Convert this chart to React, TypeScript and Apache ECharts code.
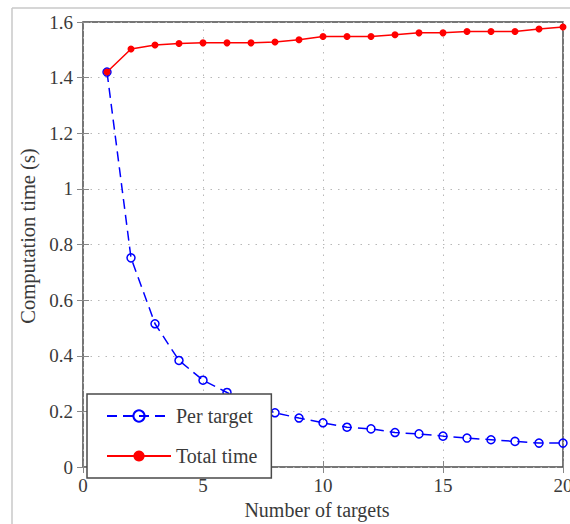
import React, { useEffect, useRef } from "react";
import * as echarts from "echarts";

const targets = [1, 2, 3, 4, 5, 6, 7, 8, 9, 10, 11, 12, 13, 14, 15, 16, 17, 18, 19, 20];
const perTarget = [1.42, 0.752, 0.515, 0.383, 0.312, 0.268, 0.225, 0.195, 0.176, 0.159, 0.143, 0.137, 0.124, 0.119, 0.111, 0.104, 0.098, 0.092, 0.086, 0.086];
const totalTime = [1.42, 1.503, 1.517, 1.523, 1.525, 1.525, 1.525, 1.528, 1.536, 1.548, 1.548, 1.548, 1.554, 1.561, 1.561, 1.566, 1.566, 1.566, 1.575, 1.582];
const seriesNames = ["Per target", "Total time"];
const xTitle = "Number of targets";
const yTitle = "Computation time (s)";

const FONT = "Liberation Serif";
const TXT = "#3a3a3a";

export default function App() {
  const ref = useRef<HTMLDivElement>(null);
  useEffect(() => {
    if (!ref.current) return;
    const chart = echarts.init(ref.current, undefined, { renderer: "svg" });
    const perData = targets.map((t, i) => [t, perTarget[i]]);
    const totData = targets.map((t, i) => [t, totalTime[i]]);
    const tickStyle = { show: true, inside: true, length: 6, lineStyle: { color: "#888", width: 1 } };
    const split = { show: true, lineStyle: { color: "#b8b8b8", width: 1, type: [1.5, 6] as any } };
    const lbl = { fontFamily: FONT, fontSize: 19, color: TXT };
    chart.setOption({
      animation: false,
      backgroundColor: "#ffffff",
      textStyle: { fontFamily: FONT },
      grid: {
        left: 83, top: 22, right: 7, bottom: 57,
        outerBoundsMode: "none", containLabel: false,
        show: true, borderColor: "#4a4a4a", borderWidth: 1.5, backgroundColor: "transparent",
      },
      xAxis: [
        {
          type: "value", min: 0, max: 20, interval: 5,
          axisLine: { show: false },
          axisTick: tickStyle,
          splitLine: split,
          axisLabel: { ...lbl, margin: 9 },
        },
        {
          type: "value", position: "top", min: 0, max: 20, interval: 5,
          axisLine: { show: false }, axisTick: tickStyle, splitLine: { show: false }, axisLabel: { show: false },
        },
      ],
      yAxis: [
        {
          type: "value", min: 0, max: 1.6, interval: 0.2,
          axisLine: { show: false },
          axisTick: tickStyle,
          splitLine: split,
          axisLabel: { ...lbl, margin: 10 },
        },
        {
          type: "value", position: "right", min: 0, max: 1.6, interval: 0.2,
          axisLine: { show: false }, axisTick: tickStyle, splitLine: { show: false }, axisLabel: { show: false },
        },
      ],
      legend: {
        orient: "vertical",
        left: 87, top: 394,
        width: 190,
        padding: [12, 14, 12, 19],
        itemGap: 20,
        itemWidth: 64,
        itemHeight: 14,
        backgroundColor: "#ffffff",
        borderColor: "#4a4a4a",
        borderWidth: 1.5,
        borderRadius: 0,
        textStyle: { fontFamily: FONT, fontSize: 20, color: TXT },
        data: seriesNames,
      },
      series: [
        {
          name: seriesNames[0],
          type: "line",
          data: perData,
          symbol: "circle",
          symbolSize: 8,
          lineStyle: { color: "#0000ff", width: 1.5, type: [10, 6] as any },
          itemStyle: { color: "rgba(0,0,0,0)", borderColor: "#0000ff", borderWidth: 1.5 },
          z: 2,
        },
        {
          name: seriesNames[1],
          type: "line",
          data: totData,
          symbol: "circle",
          symbolSize: 7,
          lineStyle: { color: "#ff0000", width: 1.5 },
          itemStyle: { color: "#ff0000", borderWidth: 0 },
          z: 3,
        },
      ],
      graphic: [
        { type: "line", shape: { x1: 12, y1: 8, x2: 570, y2: 8 }, style: { stroke: "#c8c8c8", lineWidth: 1.5 }, silent: true },
        { type: "line", shape: { x1: 12, y1: 8, x2: 12, y2: 524 }, style: { stroke: "#c8c8c8", lineWidth: 1.5 }, silent: true },
        {
          type: "text", x: 317, y: 510,
          style: { text: xTitle, fontFamily: FONT, fontSize: 20, fill: TXT, align: "center", verticalAlign: "middle" },
        },
        {
          type: "text", x: 28, y: 236, rotation: Math.PI / 2,
          style: { text: yTitle, fontFamily: FONT, fontSize: 20.5, fill: TXT, align: "center", verticalAlign: "middle" },
        },
      ],
    });
    return () => chart.dispose();
  }, []);
  return <div ref={ref} style={{ position: "fixed", left: 0, top: 0, width: 570, height: 524 }} />;
}
